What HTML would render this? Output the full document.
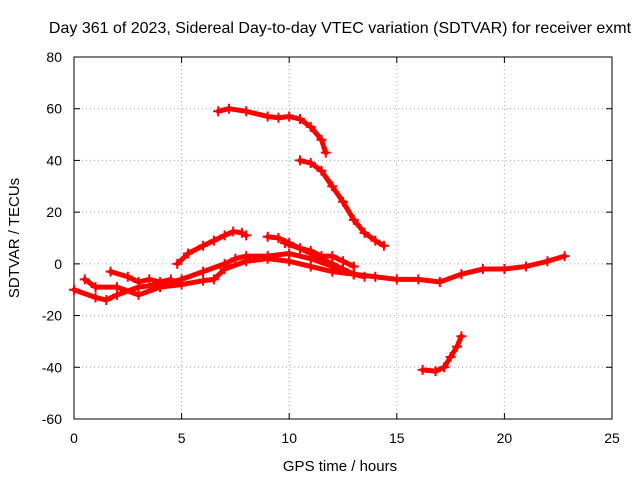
<!DOCTYPE html>
<html><head><meta charset="utf-8">
<style>
body{margin:0;background:#fff;}
svg{display:block;font-family:"Liberation Sans",sans-serif;}
</style></head>
<body>
<svg id="chart" width="640" height="480" viewBox="0 0 640 480">
<rect x="0" y="0" width="640" height="480" fill="#fff"/>
<g id="grid"></g>
<g id="axes"></g>
<g id="series"></g>
<text x="340" y="33" font-size="16" text-anchor="middle" fill="#000">Day 361 of 2023, Sidereal Day-to-day VTEC variation (SDTVAR) for receiver exmt</text>
<text x="340" y="471" font-size="15" text-anchor="middle" fill="#000">GPS time / hours</text>
<text transform="translate(19,238) rotate(-90)" font-size="15" text-anchor="middle" fill="#000">SDTVAR / TECUs</text>
</svg>
<script>
const xTicks=[0,5,10,15,20,25];
const yTicks=[-60,-40,-20,0,20,40,60,80];
const track1Hours=[6.7,7.2,8,9,9.5,10,10.5,11,11.5,11.7];
const track1Vals=[59,60,59,57,56.5,57,56,53,48,43];
const track2Hours=[10.5,11,11.5,12,12.5,13,13.5,14,14.4];
const track2Vals=[40,39,36,30,24,17,12,9,7];
const track3Hours=[16.2,16.8,17.2,17.5,17.8,18];
const track3Vals=[-41,-41.5,-40,-36,-32,-28];
const track4Hours=[4.8,5.3,6,6.5,7,7.4,7.8,8];
const track4Vals=[0,4,7,9,11,12.5,12,11];
const track5Hours=[9,9.5,10,10.5,11,11.5,12,12.5,13,13.5];
const track5Vals=[10.5,10,8,6,4,2,0,-2,-4,-5];
const track6Hours=[0,1,1.5,2,3,4,5,6,7,7.5,8,9,10,11,12,13,14,15,16,17,18,19,20,21,22,22.8];
const track6Vals=[-10,-13,-14,-12,-9,-8,-6,-3,0,2,3,3,4,2,-1,-4,-5,-6,-6,-7,-4,-2,-2,-1,1,3];
const track7Hours=[0.5,1,2,3,4,5,6,6.5,7,8,9,10,11,12,13];
const track7Vals=[-6,-9,-9,-12,-9,-8,-6.5,-6,-2,1,2,1,-1,-3,-4];
const track8Hours=[1.7,2.5,3,3.5,4,4.5];
const track8Vals=[-3,-5,-7,-6,-7,-6];
const track9Hours=[9.8,10.5,11,11.5,12,12.5,13];
const track9Vals=[8,6,5,3,3,1,-1];
const tracks=[[track1Hours,track1Vals],[track2Hours,track2Vals],[track3Hours,track3Vals],[track4Hours,track4Vals],[track5Hours,track5Vals],[track6Hours,track6Vals],[track7Hours,track7Vals],[track8Hours,track8Vals],[track9Hours,track9Vals]];
const L=74,R=612,T=57,B=419;
const xs=h=>L+(h-0)/(25-0)*(R-L);
const ys=v=>B-(v+60)/(140)*(B-T);
const NS="http://www.w3.org/2000/svg";
function mk(tag,attrs,parent){const e=document.createElementNS(NS,tag);for(const k in attrs)e.setAttribute(k,attrs[k]);parent.appendChild(e);return e;}
const grid=document.getElementById('grid'),axes=document.getElementById('axes'),series=document.getElementById('series');
xTicks.forEach(t=>{const x=xs(t);
 if(t>0&&t<25){const g=mk('line',{x1:x,x2:x,y1:T,y2:B,stroke:'#a0a0a0','stroke-dasharray':'1,3'},grid);
 
 }
 mk('line',{x1:x,x2:x,y1:B,y2:B-6,stroke:'#000'},axes);
 mk('line',{x1:x,x2:x,y1:T,y2:T+6,stroke:'#000'},axes);
 const l=mk('text',{x:x,y:B+24,'font-size':14,'text-anchor':'middle'},axes);l.textContent=t;
 
 
});
yTicks.forEach(t=>{const y=ys(t);
 if(t>-60&&t<80){const g=mk('line',{x1:L,x2:R,y1:y,y2:y,stroke:'#a0a0a0','stroke-dasharray':'1,3'},grid);
 
 }
 mk('line',{x1:L,x2:L+6,y1:y,y2:y,stroke:'#000'},axes);
 mk('line',{x1:R,x2:R-6,y1:y,y2:y,stroke:'#000'},axes);
 const l=mk('text',{x:L-12,y:y+5,'font-size':14,'text-anchor':'end'},axes);l.textContent=t;
 
 
});
mk('rect',{x:L,y:T,width:R-L,height:B-T,fill:'none',stroke:'#000'},axes);
tracks.forEach((tr,i)=>{
 const pts=tr[0].map((h,j)=>xs(h)+','+ys(tr[1][j])).join(' ');
 const p=mk('polyline',{points:pts,fill:'none',stroke:'#ff0000','stroke-width':5,'stroke-linejoin':'round','stroke-linecap':'round'},series);
 
 
 tr[0].forEach((h,j)=>{const x=xs(h),y=ys(tr[1][j]);
  mk('path',{d:`M${x-5},${y}H${x+5}M${x},${y-5}V${y+5}`,stroke:'#ff0000','stroke-width':2},series);});
});
</script>
</body></html>
